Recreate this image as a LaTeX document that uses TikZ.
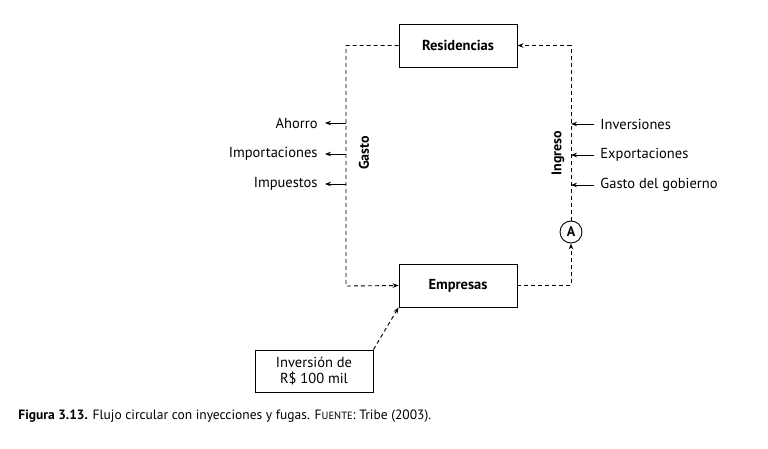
\documentclass[tikz,border=0pt]{standalone}
\usepackage{fontspec}
\setmainfont{PT Sans}
\usetikzlibrary{positioning,arrows.meta}

\begin{document}
\begin{tikzpicture}[x=1pt,y=-1pt,line width=0.9pt,>={Stealth[length=6pt,width=4.5pt]},
  sector/.style={draw,minimum width=118pt,minimum height=43pt,font=\bfseries\fontsize{14.5}{16}\selectfont},
  flow/.style={dash pattern=on 4pt off 3pt,->},
  flux/.style={font=\fontsize{14.5}{16}\selectfont,inner sep=3pt},
  axis/.style={rotate=90,font=\bfseries\fontsize{14}{16}\selectfont}]
  \useasboundingbox (0,0) rectangle (768,449);
  \node[sector] (res) at (458,45.5) {Residencias};
  \node[sector] (emp) at (458,285.5) {Empresas};
  \node[draw,minimum width=118pt,minimum height=42pt,align=center,
        font=\fontsize{14.5}{16}\selectfont] (inv) at (314,371) {Inversión de\\R\$ 100 mil};
  \node[draw,circle,minimum size=22pt,inner sep=0pt,font=\bfseries\fontsize{14}{16}\selectfont] (A) at (571,232) {A};
  \coordinate (bl) at (346,286);
  % fugas
  \coordinate (g1) at (346,123);
  \coordinate (g2) at (346,154);
  \coordinate (g3) at (346,184);
  \node[flux,anchor=east] (ahorro) at (321,123) {Ahorro};
  \node[flux,anchor=east] (import) at (321,154) {Importaciones};
  \node[flux,anchor=east] (impuestos) at (321,184) {Impuestos};
  % inyecciones
  \coordinate (i1) at (571,124);
  \coordinate (i2) at (571,155);
  \coordinate (i3) at (571,185);
  \node[flux,anchor=west] (inversiones) at (597,124) {Inversiones};
  \node[flux,anchor=west] (export) at (597,155) {Exportaciones};
  \node[flux,anchor=west] (gobierno) at (597,185) {Gasto del gobierno};
  \node[axis] (gasto) at (364,153) {Gasto};
  \node[axis] (ingreso) at (558,153) {Ingreso};
  \draw[flow] (res.west) -| (bl) -- (emp.west);
  \draw[flow] (emp.east) -| (A.south);
  \draw[flow] (A.north) |- (res.east);
  \draw[flow] (inv.north east) -- (emp.south west);
  \path[->,shorten >=4pt]
  (g1) edge (ahorro)
  (g2) edge (import)
  (g3) edge (impuestos)
  ;
  \path[->,shorten <=3pt]
  (inversiones) edge (i1)
  (export) edge (i2)
  (gobierno) edge (i3)
  ;
  \node[anchor=west,inner sep=0pt,font=\fontsize{13.5}{15}\selectfont] (caption) at (18,416)
    {\textbf{Figura 3.13.} Flujo circular con inyecciones y fugas. F{\fontsize{10.5}{12}\selectfont UENTE}: Tribe (2003).};
\end{tikzpicture}
\end{document}
